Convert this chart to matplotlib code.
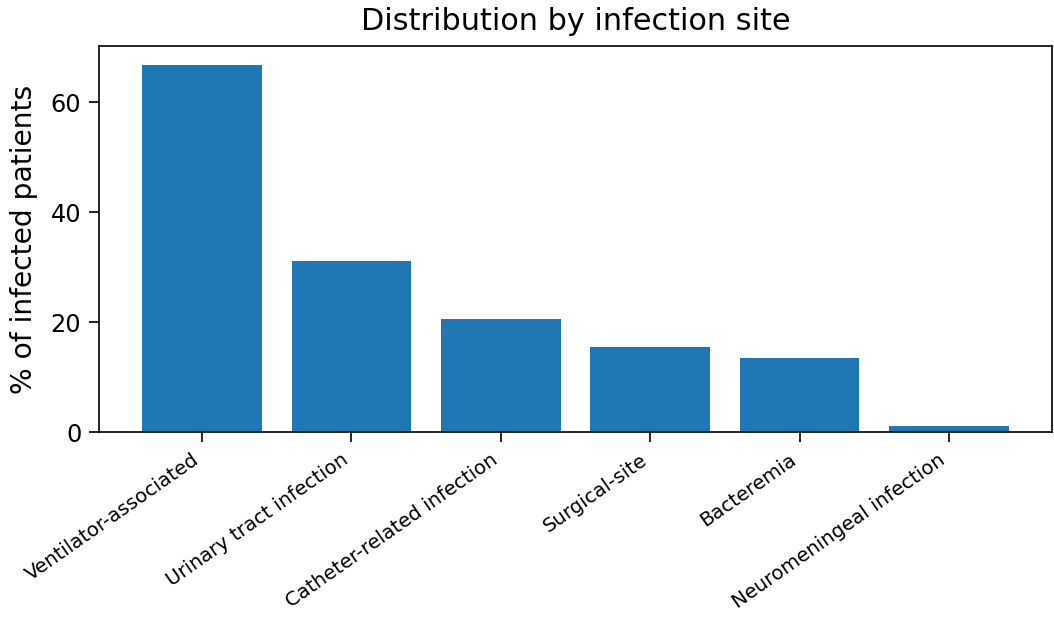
import matplotlib
matplotlib.use("Agg")
import matplotlib.pyplot as plt
from matplotlib.ticker import MultipleLocator

# infection sites and share of infected patients (%)
sites = ["Ventilator-associated", "Urinary tract infection",
         "Catheter-related infection", "Surgical-site", "Bacteremia",
         "Neuromeningeal infection"]
pct = [66.8, 31.0, 20.6, 15.5, 13.4, 1.0]

fig, ax = plt.subplots(figsize=(7.027, 4.133), dpi=150)
fig.subplots_adjust(left=0.094, right=0.998, top=0.924, bottom=0.302)

ax.bar(sites, pct, color="#1f77b4")
ax.yaxis.set_major_locator(MultipleLocator(20))
ax.set_title("Distribution by infection site", fontsize=14.5, pad=8)
ax.set_ylabel("% of infected patients", fontsize=13.5, labelpad=6)
ax.tick_params(axis="y", labelsize=11.5, length=5)
ax.tick_params(axis="x", length=5)
plt.setp(ax.get_xticklabels(), rotation=35, ha="right", fontsize=9.5)

fig.savefig("out.png")
